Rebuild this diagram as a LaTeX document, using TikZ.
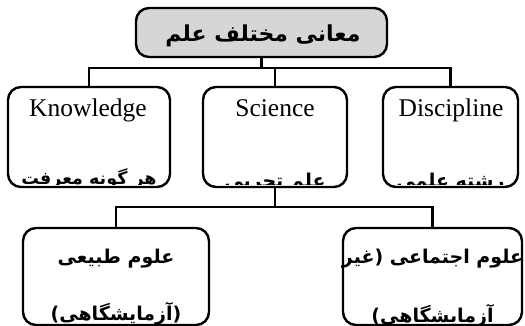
\documentclass[tikz,border=0pt]{standalone}
\usepackage{fontspec}
\setmainfont{Liberation Serif}
\newfontfamily\farsi[Script=Arabic]{DejaVu Sans}
\TeXXeTstate=1
\usetikzlibrary{positioning}

\tikzset{
  box/.style={draw, line width=2.4pt, rounded corners=13pt, inner sep=0pt},
  fa/.style={font=\farsi\bfseries\fontsize{19}{23}\selectfont, inner sep=0pt},
  en/.style={font=\fontsize{25.5}{30}\selectfont, inner sep=0pt},
  link/.style={line width=2.6pt}
}

\begin{document}
\begin{tikzpicture}[x=1pt,y=-1pt]
  \useasboundingbox (0,0) rectangle (525,326);

  %%% top
  \node[box, fill=black!16, minimum width=251pt, minimum height=49pt] (main) at (261.5,32.5) {};
  \node[fa, anchor=base] (maintxt) at (263,42) {\fontsize{22}{26}\selectfont\beginR معانی مختلف علم\endR};

  %%% first row
  \node[box, minimum width=162pt, minimum height=100pt] (know) at (89,137) {};
  \node[box, minimum width=144pt, minimum height=100pt] (sci) at (275,137) {};
  \node[box, minimum width=135pt, minimum height=100pt] (disc) at (450.5,137) {};

  \node[en, anchor=base] (knowen) at (88,116.5) {Knowledge};
  \node[en, anchor=base] (scien) at (275,116.5) {Science};
  \node[en, anchor=base] (discen) at (451,116.5) {Discipline};

  \begin{scope}
    \clip[rounded corners=13pt] (8,87) rectangle (170,185);
    \node[fa, anchor=base] (knowfa) at (89,185) {\fontsize{17.5}{22}\selectfont\beginR هر گونه معرفت\endR};
  \end{scope}
  \begin{scope}
    \clip[rounded corners=13pt] (203,87) rectangle (347,185);
    \node[fa, anchor=base] (scifa) at (275,187) {\beginR علم تجربی\endR};
  \end{scope}
  \begin{scope}
    \clip[rounded corners=13pt] (383,87) rectangle (518,185);
    \node[fa, anchor=base] (discfa) at (450.5,188) {\beginR رشته علمی\endR};
  \end{scope}

  %%% second row
  \node[box, minimum width=186pt, minimum height=97pt] (nat) at (116,276.5) {};
  \node[box, minimum width=179pt, minimum height=97pt] (soc) at (432.5,276.5) {};

  \node[fa, anchor=base] (nat1) at (116,263) {\beginR علوم طبیعی\endR};
  \node[fa, anchor=base] (soc1) at (432.5,263) {\beginR علوم اجتماعی (غیر\endR};
  \begin{scope}
    \clip[rounded corners=13pt] (23,228) rectangle (209,323);
    \node[fa, anchor=base] (nat2) at (116,320) {\beginR (آزمایشگاهی)\endR};
  \end{scope}
  \begin{scope}
    \clip[rounded corners=13pt] (343,228) rectangle (522,323);
    \node[fa, anchor=base] (soc2) at (432.5,322) {\beginR آزمایشگاهی)\endR};
  \end{scope}

  %%% connectors
  \coordinate (j1) at (261.5,68);
  \coordinate (j2) at (275,207);
  \draw[link] (main.south) -- (j1);
  \draw[link] (know.north) |- (j1) -| (disc.north);
  \draw[link] (sci.north) -- (sci.north |- j1);
  \draw[link] (sci.south) -- (j2);
  \draw[link] (nat.north) |- (j2) -| (soc.north);
\end{tikzpicture}
\end{document}
